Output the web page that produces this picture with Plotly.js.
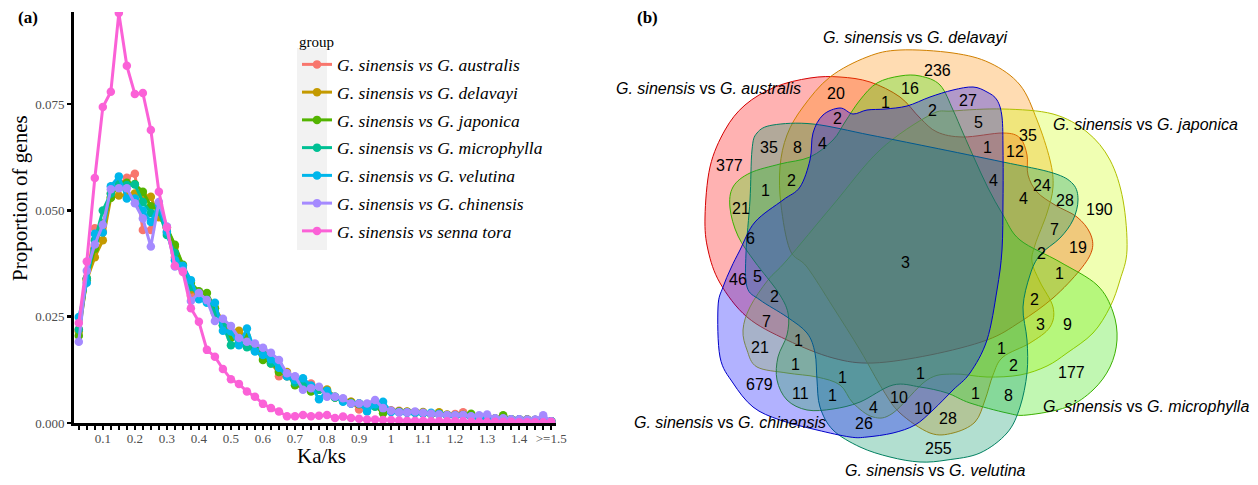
<!DOCTYPE html>
<html><head><meta charset="utf-8">
<script src="https://cdn.plot.ly/plotly-3.0.1.min.js"></script>
<style>html,body{margin:0;padding:0;background:#fff}#chart{width:1258px;height:485px}</style>
</head><body><div id="chart"></div><script>
// ---------- DATA: panel (a) ----------
const kaksBins = [0.025,0.05,0.075,0.1,0.125,0.15,0.175,0.2,0.225,0.25,0.275,0.3,0.325,0.35,0.375,0.4,0.425,0.45,0.475,0.5,
  0.525,0.55,0.575,0.6,0.625,0.65,0.675,0.7,0.725,0.75,0.775,0.8,0.825,0.85,0.875,0.9,0.925,0.95,0.975,1,
  1.025,1.05,1.075,1.1,1.125,1.15,1.175,1.2,1.225,1.25,1.275,1.3,1.325,1.35,1.375,1.4,1.425,1.45,1.475,1.5];
const labelledBins = [0.1,0.2,0.3,0.4,0.5,0.6,0.7,0.8,0.9,1,1.1,1.2,1.3,1.4,1.5];
const labelledText = ['0.1','0.2','0.3','0.4','0.5','0.6','0.7','0.8','0.9','1','1.1','1.2','1.3','1.4','>=1.5'];
const yTickVals = [0,0.025,0.05,0.075];
const yTickText = ['0.000','0.025','0.050','0.075'];
const groupNames = ['G. sinensis vs G. australis','G. sinensis vs G. delavayi','G. sinensis vs G. japonica',
  'G. sinensis vs G. microphylla','G. sinensis vs G. velutina','G. sinensis vs G. chinensis','G. sinensis vs senna tora'];
const australis = [0.022,0.034,0.0458,0.045,0.054,0.056,0.0577,0.0586,0.0454,0.0454,
  0.050,0.0448,0.039,0.036,0.0299,0.030,0.029,0.0258,0.024,0.021,
  0.0211,0.020,0.018,0.017,0.015,0.011,0.011,0.0105,0.0093,0.0093,
  0.0082,0.0075,0.006,0.0055,0.005,0.0032,0.0042,0.004,0.0038,0.003,
  0.0029,0.0026,0.0025,0.0024,0.0022,0.0022,0.0018,0.0021,0.0025,0.0016,
  0.0014,0.0013,0.001,0.0011,0.0009,0.0008,0.0008,0.0007,0.0006,0.0004];
const delavayi = [0.0215,0.0336,0.039,0.043,0.053,0.0535,0.0536,0.054,0.0536,0.0532,
  0.0484,0.046,0.0415,0.037,0.0314,0.030,0.029,0.027,0.024,0.021,
  0.0217,0.020,0.018,0.016,0.014,0.012,0.012,0.010,0.009,0.0085,
  0.0082,0.0079,0.0062,0.0056,0.005,0.0046,0.0044,0.004,0.0035,0.0028,
  0.0027,0.0027,0.0025,0.0026,0.0022,0.0025,0.002,0.0018,0.0019,0.0016,
  0.0014,0.0013,0.0011,0.0011,0.0009,0.0008,0.0008,0.0007,0.0007,0.0004];
const japonica = [0.0205,0.034,0.041,0.047,0.053,0.0564,0.0565,0.0562,0.0544,0.051,
  0.0505,0.046,0.0419,0.0372,0.033,0.031,0.0306,0.027,0.023,0.020,
  0.020,0.0203,0.018,0.0148,0.0145,0.012,0.0115,0.0089,0.0085,0.0074,
  0.0078,0.0075,0.006,0.0055,0.0048,0.0044,0.0042,0.004,0.0023,0.0028,
  0.0027,0.0026,0.0025,0.0024,0.0022,0.0022,0.0019,0.0018,0.0019,0.0022,
  0.0014,0.0013,0.001,0.0018,0.0009,0.0008,0.0008,0.0007,0.0007,0.0004];
const microphylla = [0.022,0.034,0.043,0.050,0.054,0.056,0.056,0.0561,0.052,0.0494,
  0.0497,0.0442,0.040,0.036,0.032,0.030,0.029,0.026,0.023,0.0183,
  0.0189,0.0178,0.017,0.0175,0.014,0.0135,0.011,0.0095,0.009,0.0082,
  0.0078,0.007,0.006,0.0052,0.0046,0.0046,0.0042,0.0038,0.0035,0.0028,
  0.0026,0.0025,0.0024,0.0023,0.0021,0.0021,0.0018,0.0017,0.0018,0.0015,
  0.0013,0.0012,0.001,0.001,0.0008,0.0008,0.0007,0.0007,0.0006,0.0004];
const velutina = [0.0249,0.033,0.0445,0.0448,0.0557,0.058,0.0528,0.0528,0.050,0.0473,
  0.0513,0.045,0.0383,0.037,0.0336,0.0291,0.0283,0.0283,0.0217,0.0215,
  0.0183,0.0222,0.0168,0.016,0.015,0.013,0.011,0.0101,0.0105,0.0088,
  0.0056,0.0076,0.0062,0.005,0.0046,0.0046,0.0027,0.0044,0.005,0.0026,
  0.0025,0.0024,0.0024,0.0023,0.0024,0.0021,0.0018,0.0017,0.0018,0.0015,
  0.0013,0.0012,0.001,0.001,0.0008,0.0008,0.0007,0.0007,0.0006,0.0004];
const chinensis = [0.0191,0.0358,0.042,0.0466,0.055,0.0552,0.0552,0.0517,0.0481,0.0415,
  0.052,0.0462,0.0368,0.0358,0.0287,0.0306,0.0289,0.024,0.0245,0.0228,
  0.020,0.0191,0.0187,0.0177,0.0165,0.0148,0.0117,0.011,0.0078,0.0082,
  0.0085,0.0062,0.0062,0.0058,0.0046,0.0046,0.0046,0.0054,0.0035,0.0029,
  0.0025,0.0025,0.0027,0.0024,0.0022,0.002,0.0019,0.0018,0.0019,0.0016,
  0.0018,0.002,0.0011,0.0011,0.0009,0.0009,0.0008,0.0008,0.0018,0.0004];
const sennaTora = [0.0235,0.038,0.0576,0.0743,0.0779,0.0964,0.084,0.0774,0.0776,0.0689,
  0.0544,0.046,0.037,0.0355,0.027,0.0238,0.0172,0.0156,0.0127,0.0103,
  0.0092,0.0074,0.0062,0.0045,0.0035,0.0027,0.0016,0.0016,0.0019,0.0016,
  0.0017,0.0019,0.0012,0.0015,0.0012,0.001,0.0008,0.0008,0.0007,0.0007,
  0.0006,0.0005,0.0005,0.0005,0.0004,0.0004,0.0004,0.0004,0.0004,0.0003,
  0.0003,0.0003,0.0003,0.0003,0.0003,0.0002,0.0002,0.0002,0.0002,0.0003];

// ---------- DATA: panel (b) ----------
const vennSetNames = ['G. australis','G. delavayi','G. japonica','G. microphylla','G. velutina','G. chinensis'];
const vennCounts = [236,20,1,16,2,27,2,4,35,8,5,35,377,1,12,1,2,4,24,28,190,21,4,6,7,19,3,2,46,5,1,2,2,7,3,9,1,21,1,2,1,1,1,177,679,11,1,10,1,8,4,10,28,26,255];

// ---------- GEOMETRY / STYLE (pixel frame of the 1258x485 figure) ----------
const W = 1258, H = 485;
const vennCountPos = [[937,70],[836,93],[885,102],[910,88],[932,110],[968,100],[837,118],[822,143],[769,147],[797,147],
  [978,122],[1028,135],[729,165],[987,147],[1015,151],[765,190],[791,180],[993,180],[1042,185],[1065,200],
  [1099,209],[741,208],[1023,198],[750,238],[1054,229],[1078,247],[905,262],[1041,253],[738,279],[757,276],
  [1059,273],[774,296],[1034,299],[766,321],[1040,324],[1067,324],[798,340],[760,347],[1001,348],[1013,365],
  [795,364],[842,377],[920,373],[1071,372],[759,384],[800,393],[832,395],[899,397],[975,393],[1008,395],
  [873,407],[923,408],[948,418],[864,423],[938,448]];
const vennSetLabelPos = [[708,88],[915,37],[1145,124],[1146,406],[935,470],[730,422]];
const vennOutlines = [
  [[705,217],[710,167],[725,130],[745,105],[775,87],[810,78],[840,77],[870,82],[900,97],[920,118],[937,132],[963,137],[1003,133],[1020,138],[1027,155],[1028,175],[1037,192],[1055,205],[1077,217],[1090,233],[1092,250],[1080,270],[1053,298],[1020,322],[987,340],[930,355],[873,363],[833,358],[787,340],[747,317],[720,283],[708,250]],
  [[790,250],[781,205],[780,167],[787,135],[803,107],[830,77],[867,57],[900,50],[953,53],[990,63],[1020,85],[1037,120],[1050,160],[1053,187],[1047,213],[1035,245],[1032,262],[1040,282],[1053,307],[1050,327],[1030,343],[1003,357],[993,375],[985,400],[975,422],[953,433],[930,433],[900,413],[883,390],[860,350],[833,307],[807,267]],
  [[787,260],[833,205],[880,150],[930,115],[953,111],[1003,109],[1053,114],[1087,132],[1110,160],[1123,200],[1127,250],[1120,280],[1110,307],[1093,333],[1067,353],[1047,366],[1020,375],[987,377],[953,374],[927,380],[893,413],[873,417],[853,403],[840,385],[817,377],[787,373],[757,367],[747,350],[743,330],[750,307],[768,280]],
  [[877,83],[900,76],[920,76],[940,85],[953,110],[963,133],[975,160],[988,188],[1003,215],[1020,240],[1060,262],[1097,285],[1113,312],[1117,340],[1110,367],[1093,390],[1067,407],[1027,415],[1007,413],[970,403],[947,393],[920,387],[893,385],[860,402],[833,409],[807,410],[787,400],[777,380],[778,357],[787,335],[788,313],[778,292],[755,262],[738,236],[730,208],[733,187],[750,173],[780,164],[810,157],[833,140],[845,122],[860,100]],
  [[813,124],[870,135],[930,147],[1003,162],[1053,173],[1073,184],[1078,200],[1073,220],[1060,238],[1040,255],[1030,275],[1023,307],[1027,340],[1027,373],[1020,407],[1007,433],[980,453],[947,460],[920,462],[890,457],[860,447],[833,430],[820,407],[817,380],[815,353],[807,333],[787,317],[760,300],[747,287],[746,253],[750,200],[752,150],[757,133],[773,125]],
  [[740,250],[755,222],[783,200],[800,187],[810,160],[813,133],[823,115],[840,108],[853,114],[867,110],[885,109],[907,106],[930,97],[953,90],[973,87],[987,92],[997,100],[1002,117],[1003,150],[1003,200],[1002,250],[997,290],[987,340],[970,373],[953,390],[933,410],[915,425],[893,433],[867,437],[850,437],[817,430],[780,420],[753,407],[733,383],[720,357],[718,307],[723,287],[731,268]]
];
const vennFill = ['rgba(255,0,0,0.3)','rgba(255,140,0,0.3)','rgba(204,255,0,0.3)','rgba(51,230,0,0.3)','rgba(0,150,100,0.3)','rgba(0,0,255,0.3)'];
const vennLine = ['#D40000','#D08000','#B0C000','#3CB000','#008060','#0000C8'];
const seriesColors = ['#F8766D','#C49A00','#53B400','#00C094','#00B6EB','#A58AFF','#FB61D7'];
const SERIF = 'Liberation Serif, Times New Roman, serif';
const SANS = 'Liberation Sans, Arial, sans-serif';
const px = x => x / W, py = y => 1 - y / H;

function smoothPath(pts){
  const n = pts.length; let d = 'M' + pts[0][0] + ',' + pts[0][1];
  for (let i = 0; i < n; i++){
    const p0 = pts[(i-1+n)%n], p1 = pts[i], p2 = pts[(i+1)%n], p3 = pts[(i+2)%n];
    const c1x = p1[0] + (p2[0]-p0[0])/6, c1y = p1[1] + (p2[1]-p0[1])/6;
    const c2x = p2[0] - (p3[0]-p1[0])/6, c2y = p2[1] - (p3[1]-p1[1])/6;
    d += ' C' + c1x.toFixed(1) + ',' + c1y.toFixed(1) + ' ' + c2x.toFixed(1) + ',' + c2y.toFixed(1) + ' ' + p2[0] + ',' + p2[1];
  }
  return d + ' Z';
}

const seriesValues = [australis, delavayi, japonica, microphylla, velutina, chinensis, sennaTora];
const traces = seriesValues.map((vals, i) => ({
  type: 'scatter', mode: 'lines+markers', x: kaksBins, y: vals,
  name: '<i>' + groupNames[i] + '</i>', legendgroup: 'g' + i,
  line: {color: seriesColors[i], width: 3}, marker: {color: seriesColors[i], size: 8.5},
  xaxis: 'x', yaxis: 'y'
}));
traces.push({type: 'scatter', x: [], y: [], xaxis: 'x2', yaxis: 'y2', showlegend: false, hoverinfo: 'skip'});

const tickText = kaksBins.map(b => {
  const j = labelledBins.findIndex(v => Math.abs(v - b) < 1e-9);
  return j >= 0 ? labelledText[j] : '';
});

const shapes = [{type: 'rect', xref: 'paper', yref: 'paper', x0: px(297), x1: px(327), y0: py(250), y1: py(48),
  fillcolor: '#F2F2F2', line: {width: 0}, layer: 'below'}];
vennOutlines.forEach((pts, i) => shapes.push({
  type: 'path', xref: 'x2', yref: 'y2', path: smoothPath(pts),
  fillcolor: vennFill[i], line: {color: vennLine[i], width: 1}, layer: 'above'
}));

const C = {xanchor: 'center', yanchor: 'middle', showarrow: false};
const annotations = [
  Object.assign({text: '<b>(a)</b>', xref: 'paper', yref: 'paper', x: px(28), y: py(18), font: {family: SERIF, size: 17, color: '#000'}}, C),
  Object.assign({text: '<b>(b)</b>', xref: 'paper', yref: 'paper', x: px(647), y: py(18), font: {family: SERIF, size: 17, color: '#000'}}, C),
  Object.assign({text: 'Proportion of genes', xref: 'paper', yref: 'paper', x: px(20), y: py(198), textangle: -90, font: {family: SERIF, size: 21, color: '#000'}}, C),
  Object.assign({text: 'Ka/ks', xref: 'paper', yref: 'paper', x: px(321), y: py(456), font: {family: SERIF, size: 21, color: '#000'}}, C)
];
vennCounts.forEach((c, i) => annotations.push(Object.assign({
  text: String(c), xref: 'x2', yref: 'y2', x: vennCountPos[i][0], y: vennCountPos[i][1],
  font: {family: SANS, size: 16, color: '#000'}}, C)));
vennSetNames.forEach((s, i) => annotations.push(Object.assign({
  text: '<i>G. sinensis</i> vs <i>' + s + '</i>', xref: 'x2', yref: 'y2', x: vennSetLabelPos[i][0], y: vennSetLabelPos[i][1],
  font: {family: SANS, size: 16, color: '#000'}}, C)));

const layout = {
  width: W, height: H, margin: {l: 0, r: 0, t: 0, b: 0},
  paper_bgcolor: '#fff', plot_bgcolor: 'rgba(0,0,0,0)', showlegend: true,
  xaxis: {domain: [px(74), px(556)], range: [0.01, 1.515], tickmode: 'array', tickvals: kaksBins, ticktext: tickText,
    ticks: 'outside', ticklen: 4, tickwidth: 2.5, tickcolor: '#000', showline: true, linewidth: 3, linecolor: '#000',
    showgrid: false, zeroline: false, tickfont: {family: SERIF, size: 13, color: '#4D4D4D'}, anchor: 'y', fixedrange: true,
    ticklabelstandoff: -3},
  yaxis: {domain: [py(423), py(12)], range: [0, 0.09666], tickmode: 'array', tickvals: yTickVals, ticktext: yTickText,
    ticks: 'outside', ticklen: 4, tickwidth: 2.5, tickcolor: '#000', showline: true, linewidth: 3, linecolor: '#000',
    showgrid: false, zeroline: false, tickfont: {family: SERIF, size: 13, color: '#4D4D4D'}, anchor: 'x', fixedrange: true},
  xaxis2: {domain: [0.5, 1], range: [629, 1258], visible: false, anchor: 'y2', fixedrange: true},
  yaxis2: {domain: [0, 1], range: [485, 0], visible: false, anchor: 'x2', fixedrange: true},
  legend: {x: px(297), y: py(27), xanchor: 'left', yanchor: 'top', bgcolor: 'rgba(0,0,0,0)',
    font: {family: SERIF, size: 17.5, color: '#000'}, title: {text: 'group', font: {family: SERIF, size: 15, color: '#000'}},
    itemwidth: 30, tracegroupgap: 2},
  shapes: shapes, annotations: annotations
};
Plotly.newPlot('chart', traces, layout, {staticPlot: true, displayModeBar: false});
</script></body></html>
